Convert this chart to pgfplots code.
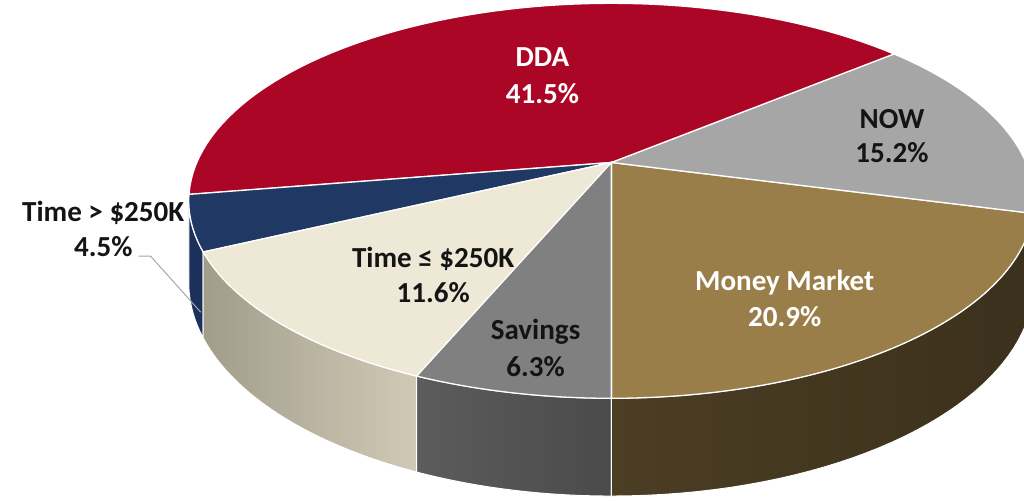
\documentclass[border=0pt]{standalone}
\usepackage{fontspec}
\setmainfont{Carlito}
\usepackage{pgfplots}
\pgfplotsset{compat=1.18}
\definecolor{cDDA}{HTML}{AB0626}
\definecolor{cNOW}{HTML}{A6A6A6}
\definecolor{cMM}{HTML}{9A7E4A}
\definecolor{cSAV}{HTML}{808080}
\definecolor{cTL}{HTML}{EEE8D7}
\definecolor{cTG}{HTML}{1F3864}
\definecolor{sTG}{HTML}{1B315C}
\definecolor{sTLa}{HTML}{A29D8B}
\definecolor{sTLb}{HTML}{D0C9B6}
\definecolor{sSAVa}{HTML}{5C5C5C}
\definecolor{sSAVb}{HTML}{4A4A4A}
\definecolor{sMMa}{HTML}{4C3E24}
\definecolor{sMMb}{HTML}{3B301C}
\definecolor{sNOW}{HTML}{7A7A7A}
\definecolor{txt}{HTML}{141414}
% shares in percent
\def\pMM{20.9}
\def\pNOW{15.2}
\def\pDDA{41.5}
\def\pTG{4.5}
\def\pTL{11.6}
\def\pSAV{6.3}
\newcommand\lab{\fontsize{29.5}{35}\selectfont\bfseries}
\newcommand\side[4]{%
 \addplot[#3,#4, draw=white, line width=1pt, domain=0:2, samples=81, variable=\s]
  ({px(ts(\s,#1,#2))},{py(ts(\s,#1,#2))+(\s>1.01)*dz(ts(\s,#1,#2))}) -- cycle;}
\newcommand\topface[3]{%
 \addplot[fill=#3, draw=white, line width=1.3pt, domain=#1:#2, samples=70, variable=\t]
  ({px(\t)},{py(\t)}) -- (605,165) -- cycle;}
\begin{document}
\pgfmathsetmacro\aA{270}
\pgfmathsetmacro\aB{\aA+3.6*\pMM}
\pgfmathsetmacro\aC{\aB+3.6*\pNOW}
\pgfmathsetmacro\aD{\aC+3.6*\pDDA}
\pgfmathsetmacro\aE{\aD+3.6*\pTG}
\pgfmathsetmacro\aF{\aE+3.6*\pTL}
\pgfmathsetmacro\aG{\aF+3.6*\pSAV}
\begin{tikzpicture}
\begin{axis}[width=1024pt,height=508pt,scale only axis,
  xmin=0,xmax=1024,ymin=0,ymax=508,y dir=reverse,hide axis,clip=true,
  declare function={
    px(\t)=605+421*cos(\t)/(1+0.194*sin(\t));
    py(\t)=165-193*sin(\t)/(1+0.194*sin(\t));
    dz(\t)=80/(1+0.194*sin(\t));
    ts(\s,\ua,\ub)=(\s<=1.01)*(\ua+\s*(\ub-\ua))+(\s>1.01)*(\ub-(\s-1.025)/0.975*(\ub-\ua));
  }]
% sides (front half)
\side{\aD}{\aE}{fill=sTG}{}
\side{\aE}{\aF}{left color=sTLa}{right color=sTLb}
\side{\aF}{\aG}{left color=sSAVa}{right color=sSAVb}
\side{\aA}{\aB}{left color=sMMa}{right color=sMMb}
\side{\aB}{360}{fill=sNOW}{}
% top faces
\topface{\aA}{\aB}{cMM}
\topface{\aB}{\aC}{cNOW}
\topface{\aC}{\aD}{cDDA}
\topface{\aD}{\aE}{cTG}
\topface{\aE}{\aF}{cTL}
\topface{\aF}{\aG}{cSAV}
% leader line
\addplot[color=black!35, line width=1pt] coordinates {(125,260) (137,260) (188,317)};
% labels
\node[anchor=base,text=white,font=\lab] at (535,68) {DDA};
\node[anchor=base,text=white,font=\lab] at (535,105) {41.5\%};
\node[anchor=base,text=txt,font=\lab] at (890,130) {NOW};
\node[anchor=base,text=txt,font=\lab] at (890,165) {15.2\%};
\node[anchor=base,text=white,font=\lab] at (781,295) {Money Market};
\node[anchor=base,text=white,font=\lab] at (781,332) {20.9\%};
\node[anchor=base,text=txt,font=\lab] at (528,345) {Savings};
\node[anchor=base,text=txt,font=\lab] at (528,382) {6.3\%};
\node[anchor=base,text=txt,font=\lab] at (424,272) {Time ≤ \$250K};
\node[anchor=base,text=txt,font=\lab] at (424,307) {11.6\%};
\node[anchor=base,text=txt,font=\lab] at (89,225) {Time > \$250K};
\node[anchor=base,text=txt,font=\lab] at (89,260) {4.5\%};
\end{axis}
\pgfresetboundingbox
\path (current axis.south west) rectangle (current axis.north east);
\end{tikzpicture}
\end{document}
